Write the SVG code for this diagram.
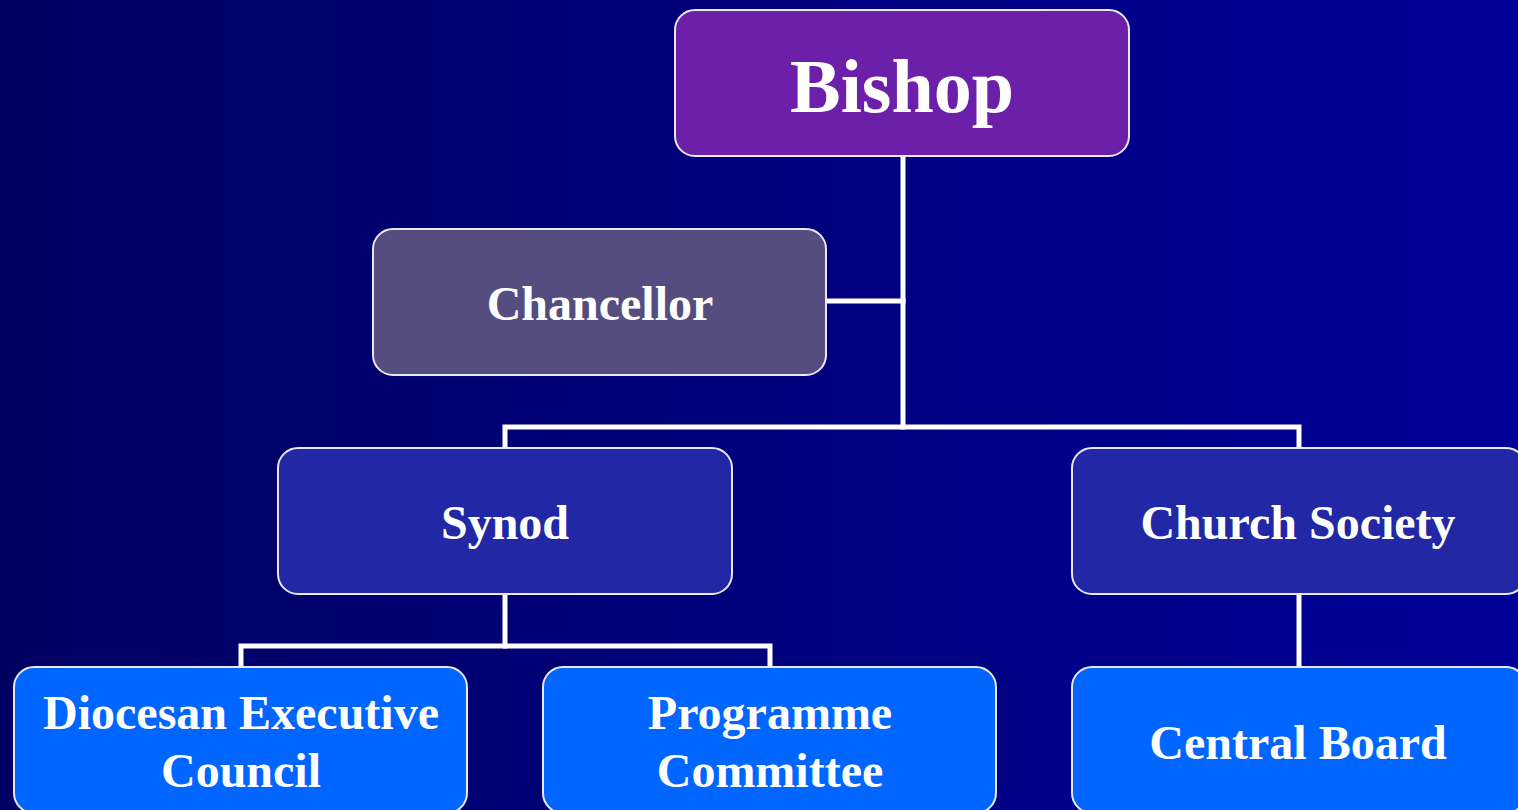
<svg xmlns="http://www.w3.org/2000/svg" width="1518" height="810" viewBox="0 0 1518 810">
  <defs>
    <linearGradient id="bg" x1="0" y1="0" x2="1" y2="0">
      <stop offset="0" stop-color="#000062"/>
      <stop offset="1" stop-color="#000098"/>
    </linearGradient>
    <style>
      .box { stroke: #e8e8f0; stroke-width: 2; }
      .t { font-family: "Liberation Serif", "Times New Roman", serif; font-weight: bold; fill: #ffffff; text-anchor: middle; }
      .conn { stroke: #ffffff; stroke-width: 5; fill: none; stroke-linecap: square; }
    </style>
  </defs>
  <rect x="0" y="0" width="1518" height="810" fill="url(#bg)"/>

  <g id="connectors">
    <path class="conn" d="M903 158 V427"/>
    <path class="conn" d="M828 301 H903"/>
    <path class="conn" d="M505 446 V427 H1299 V446"/>
    <path class="conn" d="M505 596 V646"/>
    <path class="conn" d="M241 665 V646 H770 V665"/>
    <path class="conn" d="M1299 596 V665"/>
  </g>

  <g id="bishop">
    <rect class="box" x="675" y="10" width="454" height="146" rx="20" fill="#6c1fa8"/>
    <text class="t" x="902" y="112" font-size="76">Bishop</text>
  </g>
  <g id="chancellor">
    <rect class="box" x="373" y="229" width="453" height="146" rx="20" fill="#554c7f"/>
    <text class="t" x="600" y="320" font-size="48">Chancellor</text>
  </g>
  <g id="synod">
    <rect class="box" x="278" y="448" width="454" height="146" rx="20" fill="#2227a6"/>
    <text class="t" x="505" y="539" font-size="48">Synod</text>
  </g>
  <g id="church-society">
    <rect class="box" x="1072" y="448" width="454" height="146" rx="20" fill="#2227a6"/>
    <text class="t" x="1298" y="539" font-size="48">Church Society</text>
  </g>
  <g id="diocesan-executive-council">
    <rect class="box" x="14" y="667" width="453" height="146" rx="20" fill="#0066ff"/>
    <text class="t" x="241" y="729" font-size="48">Diocesan Executive</text>
    <text class="t" x="241" y="787" font-size="48">Council</text>
  </g>
  <g id="programme-committee">
    <rect class="box" x="543" y="667" width="453" height="146" rx="20" fill="#0066ff"/>
    <text class="t" x="770" y="729" font-size="48">Programme</text>
    <text class="t" x="770" y="787" font-size="48">Committee</text>
  </g>
  <g id="central-board">
    <rect class="box" x="1072" y="667" width="454" height="146" rx="20" fill="#0066ff"/>
    <text class="t" x="1298" y="759" font-size="48">Central Board</text>
  </g>
</svg>
